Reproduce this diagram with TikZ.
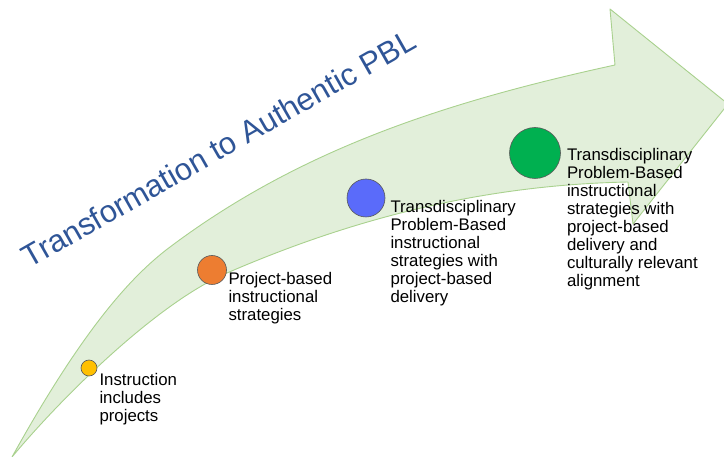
\documentclass[tikz,border=0pt]{standalone}
\usepackage{fontspec}
\setmainfont{Liberation Sans}
\definecolor{arrowfill}{HTML}{E2EFDA}
\definecolor{arrowline}{HTML}{A9D18E}
\definecolor{titleblue}{HTML}{2F5597}
\definecolor{stepyellow}{HTML}{FFC000}
\definecolor{steporange}{HTML}{ED7D31}
\definecolor{stepblue}{HTML}{5A6BFA}
\definecolor{stepgreen}{HTML}{00B050}
\begin{document}
\begin{tikzpicture}[x=1pt,y=-1pt]
  \tikzstyle{dot}=[circle, draw=black!65, line width=0.6pt, inner sep=0pt]
  \tikzstyle{lbl}=[anchor=north west, inner sep=0pt, align=left,
    font=\fontsize{16.8}{18}\selectfont]
  \useasboundingbox (0,0) rectangle (724,457);
  \clip (0,0) rectangle (724,457);
  % the big curved arrow
  \filldraw[fill=arrowfill, draw=arrowline, line width=0.9pt, line join=round]
    (12,457) .. controls (82,331) and (130,277) .. (170,247)
    .. controls (300,149.5) and (445,102) .. (615,65)
    -- (610,9) -- (728,104) -- (633,224) -- (628,182)
    .. controls (478,185) and (347,221) .. (227,273)
    .. controls (157,303) and (62,397) .. (12,457)
    -- cycle;
  \node[rotate=29.7, anchor=base, text=titleblue,
    font=\fontsize{31}{36}\selectfont] (title) at (224,158)
    {Transformation to Authentic PBL};
  % the four steps
  \node[dot, fill=stepyellow, minimum size=16pt] (ycirc) at (89,368) {};
  \node[dot, fill=steporange, minimum size=29pt] (ocirc) at (212,270) {};
  \node[dot, fill=stepblue, minimum size=38pt] (bcirc) at (366,198) {};
  \node[dot, fill=stepgreen, minimum size=51pt] (gcirc) at (535,153) {};
  \node[lbl] (ytext) at ([xshift=2pt,yshift=-5pt]ycirc.east)
    {Instruction\\includes\\projects};
  \node[lbl] (otext) at ([xshift=1.5pt,yshift=-2pt]ocirc.east)
    {Project-based\\instructional\\strategies};
  \node[lbl] (btext) at ([xshift=5pt,yshift=-2pt]bcirc.east)
    {Transdisciplinary\\Problem-Based\\instructional\\strategies with\\project-based\\delivery};
  \node[lbl] (gtext) at ([xshift=6pt,yshift=5pt]gcirc.east)
    {Transdisciplinary\\Problem-Based\\instructional\\strategies with\\project-based\\delivery and\\culturally relevant\\alignment};
\end{tikzpicture}
\end{document}
